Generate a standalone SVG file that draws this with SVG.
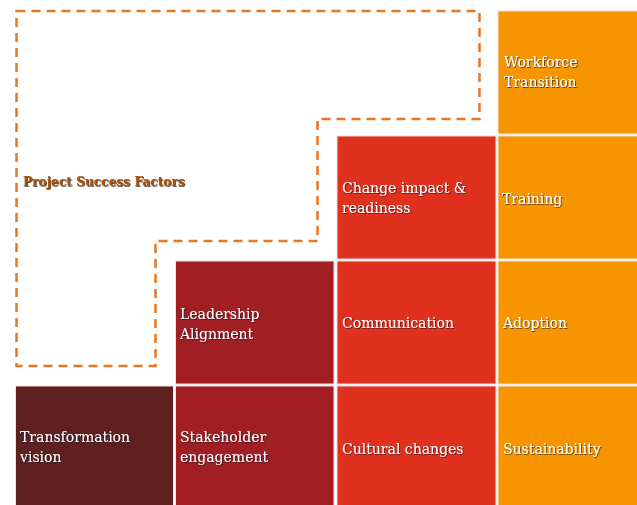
<svg xmlns="http://www.w3.org/2000/svg" width="637" height="505" viewBox="0 0 637 505">
  <defs>
    <filter id="sh" x="-10%" y="-30%" width="130%" height="160%">
      <feDropShadow dx="0.8" dy="0.8" stdDeviation="0.4" flood-color="#10102a" flood-opacity="0.75"/>
    </filter>
    <filter id="sh2" x="-10%" y="-30%" width="130%" height="160%">
      <feDropShadow dx="0.8" dy="0.8" stdDeviation="0.4" flood-color="#2a1400" flood-opacity="0.9"/>
    </filter>
    <style>
      .cell { stroke: #f4dede; stroke-width: 1; }
      .c1 { fill: #5e2120; }
      .c2 { fill: #a11f22; }
      .c3 { fill: #df311e; }
      .c4 { fill: #f79500; }
      .lbl { font-family: "DejaVu Serif", "Liberation Serif", serif; font-size: 14px; fill: #ffffff; filter: url(#sh); }
      .title { font-family: "DejaVu Serif", "Liberation Serif", serif; font-size: 12.2px; font-weight: bold; fill: #a8520a; filter: url(#sh2); }
      .dash { fill: none; stroke: #e87722; stroke-width: 2.5; stroke-dasharray: 9 6; }
    </style>
  </defs>
  <rect width="637" height="505" fill="#ffffff"/>

  <g id="connectors">
    <path class="dash" d="M16.5,11 H479.5 V119 H317.5 V241 H155.5 V366 H16.5 Z"/>
  </g>

  <g id="project-success-factors">
    <text class="title" x="23" y="186">Project Success Factors</text>
  </g>

  <g id="workforce-transition">
    <rect class="cell c4" x="498" y="11" width="142" height="123"/>
    <text class="lbl" x="504" y="67">Workforce</text>
    <text class="lbl" x="504" y="87">Transition</text>
  </g>

  <g id="change-impact">
    <rect class="cell c3" x="337" y="136" width="159" height="123"/>
    <text class="lbl" x="342" y="193">Change impact &amp;</text>
    <text class="lbl" x="342" y="213">readiness</text>
  </g>

  <g id="training">
    <rect class="cell c4" x="498" y="136" width="142" height="123"/>
    <text class="lbl" x="502" y="204">Training</text>
  </g>

  <g id="leadership-alignment">
    <rect class="cell c2" x="175.5" y="261" width="158.5" height="123"/>
    <text class="lbl" x="180" y="319">Leadership</text>
    <text class="lbl" x="180" y="339">Alignment</text>
  </g>

  <g id="communication">
    <rect class="cell c3" x="337" y="261" width="159" height="123"/>
    <text class="lbl" x="342" y="328">Communication</text>
  </g>

  <g id="adoption">
    <rect class="cell c4" x="498" y="261" width="142" height="123"/>
    <text class="lbl" x="503" y="328">Adoption</text>
  </g>

  <g id="transformation-vision">
    <rect class="cell c1" x="15.5" y="386" width="158" height="123"/>
    <text class="lbl" x="20" y="442">Transformation</text>
    <text class="lbl" x="20" y="462">vision</text>
  </g>

  <g id="stakeholder-engagement">
    <rect class="cell c2" x="175.5" y="386" width="158.5" height="123"/>
    <text class="lbl" x="180" y="442">Stakeholder</text>
    <text class="lbl" x="180" y="462">engagement</text>
  </g>

  <g id="cultural-changes">
    <rect class="cell c3" x="337" y="386" width="159" height="123"/>
    <text class="lbl" x="342" y="454">Cultural changes</text>
  </g>

  <g id="sustainability">
    <rect class="cell c4" x="498" y="386" width="142" height="123"/>
    <text class="lbl" x="503" y="454">Sustainability</text>
  </g>
</svg>
